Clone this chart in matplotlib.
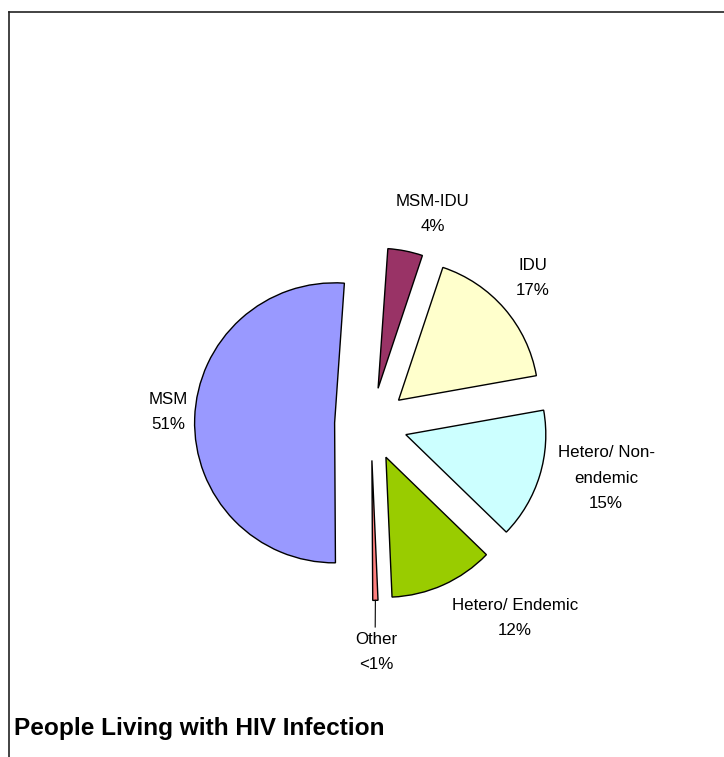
import numpy as np
import matplotlib
matplotlib.use("Agg")
import matplotlib.pyplot as plt
from matplotlib.lines import Line2D

plt.rcParams['font.family'] = ['Liberation Sans', 'DejaVu Sans']

# Transmission categories, clockwise from the top of the pie
categories = ["MSM-IDU", "IDU", "Hetero/ Non-\nendemic", "Hetero/ Endemic", "Other", "MSM"]
shares = [4, 17, 15, 12, 0.6, 51]
pct_labels = ["4%", "17%", "15%", "12%", "<1%", "51%"]
colors = ["#993366", "#FFFFCC", "#CCFFFF", "#99CC00", "#FF8080", "#9999FF"]
title = "People Living with HIV Infection"

W, H, DPI = 724, 757, 100
fig = plt.figure(figsize=(W / DPI, H / DPI), dpi=DPI)
ax = fig.add_axes([0, 0, 1, 1])

explode = [0.26] * len(shares)
wedges, _ = ax.pie(shares, colors=colors, explode=explode, startangle=86,
                   counterclock=False, radius=1.0,
                   wedgeprops=dict(edgecolor="black", linewidth=1.0))

# pixel scale: one data unit = 140 px, pie centre at (371, 424) from top-left
unit = 140.0
cx, cy = 371.0, H - 424.0
ax.set_xlim(-cx / unit, (W - cx) / unit)
ax.set_ylim(-cy / unit, (H - cy) / unit)
ax.set_aspect("equal", adjustable="box")
ax.axis("off")

# label positions (data units relative to pie centre)
label_pos = [(0.44, 1.50), (1.157, 1.043), (1.679, -0.386),
             (1.029, -1.386), (0.036, -1.629), (-1.45, 0.086)]
for name, pct, (lx, ly) in zip(categories, pct_labels, label_pos):
    ax.text(lx, ly, f"{name}\n{pct}", ha="center", va="center",
            fontsize=12.2, linespacing=1.85, color="black")

# leader line from the thin "Other" slice to its label
w = wedges[4]
mid = np.deg2rad((w.theta1 + w.theta2) / 2)
ox, oy = w.center
ax.plot([ox + np.cos(mid) * 1.0, 0.03], [oy + np.sin(mid) * 1.0, -1.45],
        color="black", linewidth=0.8)

# chart frame (top and left edges)
fig.add_artist(Line2D([9 / W, 1], [1 - 12 / H, 1 - 12 / H],
                      transform=fig.transFigure, color="#222222", linewidth=1.2))
fig.add_artist(Line2D([9 / W, 9 / W], [0, 1 - 12 / H],
                      transform=fig.transFigure, color="#222222", linewidth=1.2))

fig.text(14 / W, 1 - 729 / H, title, ha="left", va="center",
         fontsize=17.6, fontweight="bold")

fig.savefig("out.png", dpi=DPI, facecolor="white")
